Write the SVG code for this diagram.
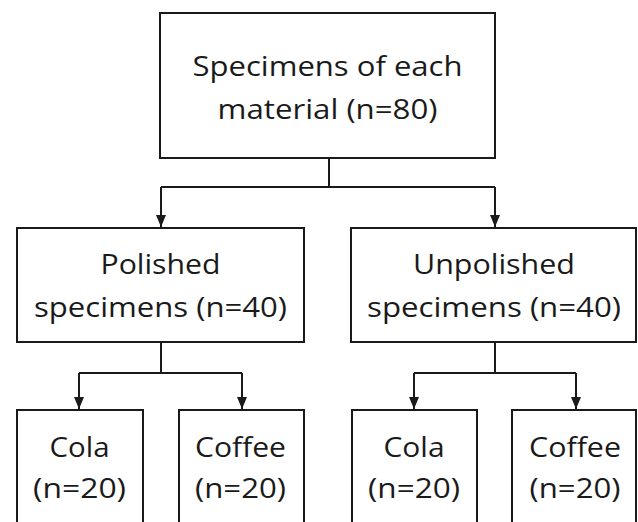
<svg xmlns="http://www.w3.org/2000/svg" width="638" height="522" viewBox="0 0 638 522">
<style>
.box{fill:#fff;stroke:#1a1a1a;stroke-width:2}
.lbl{font-family:"Open Sans","Liberation Sans",sans-serif;font-size:28px;fill:#1a1a1a;text-anchor:middle}
.con{fill:none;stroke:#1a1a1a;stroke-width:2}
</style>
<defs>
<marker id="arr" viewBox="0 0 12 10" refX="12" refY="5" markerWidth="12" markerHeight="10" markerUnits="userSpaceOnUse" orient="auto">
<path d="M0,0 L12,5 L0,10 z" fill="#1a1a1a"/>
</marker>
</defs>
<rect width="638" height="522" fill="#fff"/>
<g id="connectors">
<path class="con" d="M329,158 V187 M161,187 H495"/>
<path class="con" d="M161,187 V227" marker-end="url(#arr)"/>
<path class="con" d="M495,187 V227" marker-end="url(#arr)"/>
<path class="con" d="M161,342 V373 M79,373 H242"/>
<path class="con" d="M79,373 V409" marker-end="url(#arr)"/>
<path class="con" d="M242,373 V409" marker-end="url(#arr)"/>
<path class="con" d="M495,342 V373 M414,373 H576"/>
<path class="con" d="M414,373 V409" marker-end="url(#arr)"/>
<path class="con" d="M576,373 V409" marker-end="url(#arr)"/>
</g>
<g id="node-root">
<rect class="box" x="160" y="13" width="335" height="145"/>
<text class="lbl" x="327.5" y="76" textLength="270" lengthAdjust="spacingAndGlyphs">Specimens of each</text>
<text class="lbl" x="327.5" y="119" textLength="220" lengthAdjust="spacingAndGlyphs">material (n=80)</text>
</g>
<g id="node-polished">
<rect class="box" x="17" y="228" width="287" height="114"/>
<text class="lbl" x="160.5" y="274" textLength="120" lengthAdjust="spacingAndGlyphs">Polished</text>
<text class="lbl" x="160.5" y="317" textLength="253" lengthAdjust="spacingAndGlyphs">specimens (n=40)</text>
</g>
<g id="node-unpolished">
<rect class="box" x="351" y="228" width="285" height="114"/>
<text class="lbl" x="494" y="274" textLength="162" lengthAdjust="spacingAndGlyphs">Unpolished</text>
<text class="lbl" x="494" y="317" textLength="254" lengthAdjust="spacingAndGlyphs">specimens (n=40)</text>
</g>
<g id="node-cola-polished">
<rect class="box" x="17" y="410" width="126" height="120"/>
<text class="lbl" x="79.5" y="457" textLength="60" lengthAdjust="spacingAndGlyphs">Cola</text>
<text class="lbl" x="79.5" y="498" textLength="93" lengthAdjust="spacingAndGlyphs">(n=20)</text>
</g>
<g id="node-coffee-polished">
<rect class="box" x="179" y="410" width="125" height="120"/>
<text class="lbl" x="240.5" y="457" textLength="91" lengthAdjust="spacingAndGlyphs">Coffee</text>
<text class="lbl" x="240.5" y="498" textLength="91" lengthAdjust="spacingAndGlyphs">(n=20)</text>
</g>
<g id="node-cola-unpolished">
<rect class="box" x="352" y="410" width="125" height="120"/>
<text class="lbl" x="414" y="457" textLength="61" lengthAdjust="spacingAndGlyphs">Cola</text>
<text class="lbl" x="414" y="498" textLength="92" lengthAdjust="spacingAndGlyphs">(n=20)</text>
</g>
<g id="node-coffee-unpolished">
<rect class="box" x="512" y="410" width="124" height="120"/>
<text class="lbl" x="575" y="457" textLength="92" lengthAdjust="spacingAndGlyphs">Coffee</text>
<text class="lbl" x="575" y="498" textLength="91" lengthAdjust="spacingAndGlyphs">(n=20)</text>
</g>
</svg>
